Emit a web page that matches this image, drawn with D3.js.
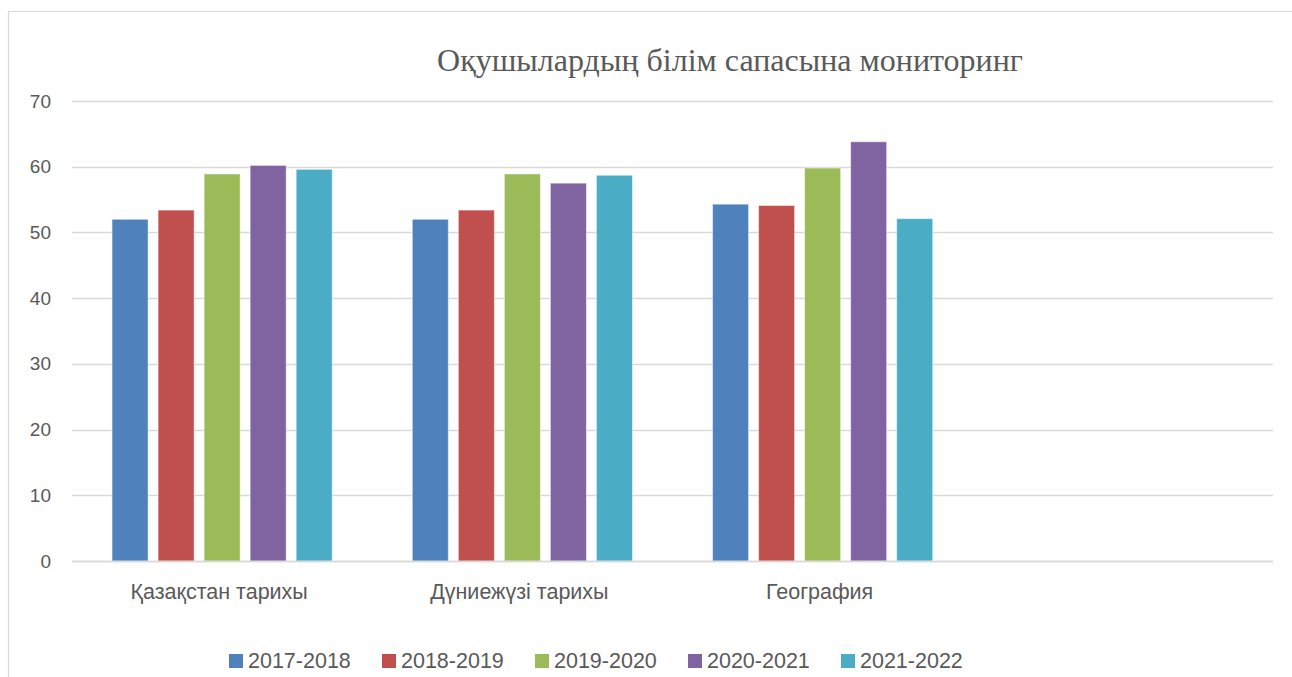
<!DOCTYPE html>
<html>
<head>
<meta charset="utf-8">
<script src="https://cdn.jsdelivr.net/npm/d3@7"></script>
<style>
  body { margin: 0; background: #fff; }
  svg { display: block; }
</style>
</head>
<body>
<div id="chart"></div>
<script>
// chart data
const categories = ['Қазақстан тарихы', 'Дүниежүзі тарихы', 'География', ''];
const seriesNames = ['2017-2018', '2018-2019', '2019-2020', '2020-2021', '2021-2022'];
const s2017 = [52.0, 52.0, 54.3, null];
const s2018 = [53.4, 53.4, 54.1, null];
const s2019 = [58.9, 58.9, 59.8, null];
const s2020 = [60.2, 57.5, 63.8, null];
const s2021 = [59.6, 58.7, 52.1, null];
const yTicks = [0, 10, 20, 30, 40, 50, 60, 70];
const colors = ['#4F81BD', '#C0504D', '#9BBB59', '#8064A2', '#4BACC6'];
const title = 'Оқушылардың білім сапасына мониторинг';

const seriesValues = [s2017, s2018, s2019, s2020, s2021];

const width = 1292, height = 677;
const margin = {top: 101, right: 19, bottom: 116, left: 72};

const svg = d3.select('#chart').append('svg')
  .attr('width', width)
  .attr('height', height);

// outer chart border (cut off on the right and bottom)
svg.append('path')
  .attr('d', `M8.5,${height + 5} V11.5 H${width + 5}`)
  .attr('fill', 'none')
  .attr('stroke', '#d9d9d9')
  .attr('stroke-width', 1.2);

const x0 = d3.scaleBand()
  .domain(d3.range(categories.length))
  .range([margin.left, width - margin.right])
  .paddingInner(0)
  .paddingOuter(0);

const x1 = d3.scaleBand()
  .domain(d3.range(seriesNames.length))
  .range([0, x0.bandwidth()])
  .paddingInner(0.217)
  .paddingOuter(0.87);

const y = d3.scaleLinear()
  .domain([0, 70])
  .range([height - margin.bottom, margin.top]);

// gridlines
svg.append('g')
  .selectAll('line')
  .data(yTicks)
  .enter().append('line')
  .attr('x1', margin.left)
  .attr('x2', width - margin.right)
  .attr('y1', d => Math.round(y(d)) + 0.5)
  .attr('y2', d => Math.round(y(d)) + 0.5)
  .attr('stroke', '#d9d9d9')
  .attr('stroke-width', 1.5);

// y tick labels
const yAxis = svg.append('g')
  .attr('transform', `translate(${margin.left},0)`)
  .call(d3.axisLeft(y).tickValues(yTicks).tickSize(0).tickPadding(21));
yAxis.select('.domain').remove();
yAxis.selectAll('text')
  .attr('fill', '#595959')
  .attr('font-family', '"Liberation Sans", Arial, sans-serif')
  .attr('font-size', 19);

// bars
const groups = svg.append('g')
  .selectAll('g')
  .data(seriesValues)
  .enter().append('g')
  .attr('fill', (d, i) => colors[i]);

groups.each(function(vals, si) {
  d3.select(this).selectAll('rect')
    .data(vals.map((v, ci) => ({v: v, ci: ci})).filter(d => d.v !== null))
    .enter().append('rect')
    .attr('x', d => x0(d.ci) + x1(si))
    .attr('y', d => y(d.v))
    .attr('width', x1.bandwidth())
    .attr('height', d => y(0) - y(d.v))
    .attr('stroke', '#fff')
    .attr('stroke-opacity', 0.5)
    .attr('stroke-width', 1);
});

// x axis line on top of bars
svg.append('line')
  .attr('x1', margin.left)
  .attr('x2', width - margin.right)
  .attr('y1', Math.round(y(0)) + 0.5)
  .attr('y2', Math.round(y(0)) + 0.5)
  .attr('stroke', '#d9d9d9')
  .attr('stroke-width', 1.5);

// category labels
const xAxis = svg.append('g')
  .attr('transform', `translate(0,${y(0)})`)
  .call(d3.axisBottom(x0).tickFormat(i => categories[i]).tickSize(0).tickPadding(23));
xAxis.select('.domain').remove();
xAxis.selectAll('text')
  .attr('fill', '#595959')
  .attr('font-family', '"Liberation Sans", Arial, sans-serif')
  .attr('font-size', 21.5)
  .attr('dx', -3);

// title
svg.append('text')
  .attr('x', 730)
  .attr('y', 71)
  .attr('text-anchor', 'middle')
  .attr('fill', '#595959')
  .attr('font-family', '"Liberation Serif", "Times New Roman", serif')
  .attr('font-size', 32)
  .text(title);

// legend
const legend = svg.append('g')
  .attr('transform', 'translate(229,654)');

const item = legend.selectAll('g')
  .data(seriesNames)
  .enter().append('g')
  .attr('transform', (d, i) => `translate(${i * 153},0)`);

item.append('rect')
  .attr('width', 14)
  .attr('height', 14)
  .attr('fill', (d, i) => colors[i]);

item.append('text')
  .attr('x', 19)
  .attr('y', 14)
  .attr('fill', '#595959')
  .attr('font-family', '"Liberation Sans", Arial, sans-serif')
  .attr('font-size', 21.5)
  .text(d => d);
</script>
</body>
</html>
